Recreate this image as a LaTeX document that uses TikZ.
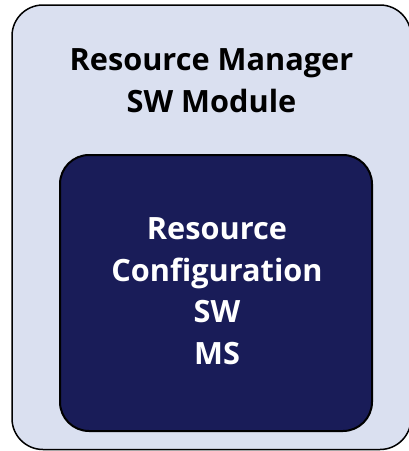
\documentclass[tikz,border=0pt]{standalone}
\usepackage{fontspec}
\setmainfont{Open Sans}[BoldFont={* Bold}]
\definecolor{outerfill}{HTML}{DAE0F0}
\definecolor{innerfill}{HTML}{191C58}
\begin{document}
\begin{tikzpicture}[x=1pt,y=-1pt,
  outerbox/.style={draw=black, line width=1.5pt, fill=outerfill, rounded corners=31pt},
  innerbox/.style={draw=black, line width=2pt, fill=innerfill, rounded corners=29pt},
  label/.style={align=center, inner sep=0pt, font=\bfseries\fontsize{30.7}{41.5}\selectfont}]
  \useasboundingbox (0,0) rectangle (409,451);
  \begin{scope}
    \clip (0,0) rectangle (409,451);
    \draw[outerbox] (12,5) rectangle (411,449.5);
  \end{scope}
  \draw[innerbox] (60,155) rectangle (372,431);
  % anchor=base sits on the baseline of the last line
  \node[label, anchor=base, text=black] (title) at (211.5,112) {Resource Manager\\SW Module};
  \node[label, anchor=base, text=white] (inner) at (217,364) {Resource\\Configuration\\SW\\MS};
\end{tikzpicture}
\end{document}
